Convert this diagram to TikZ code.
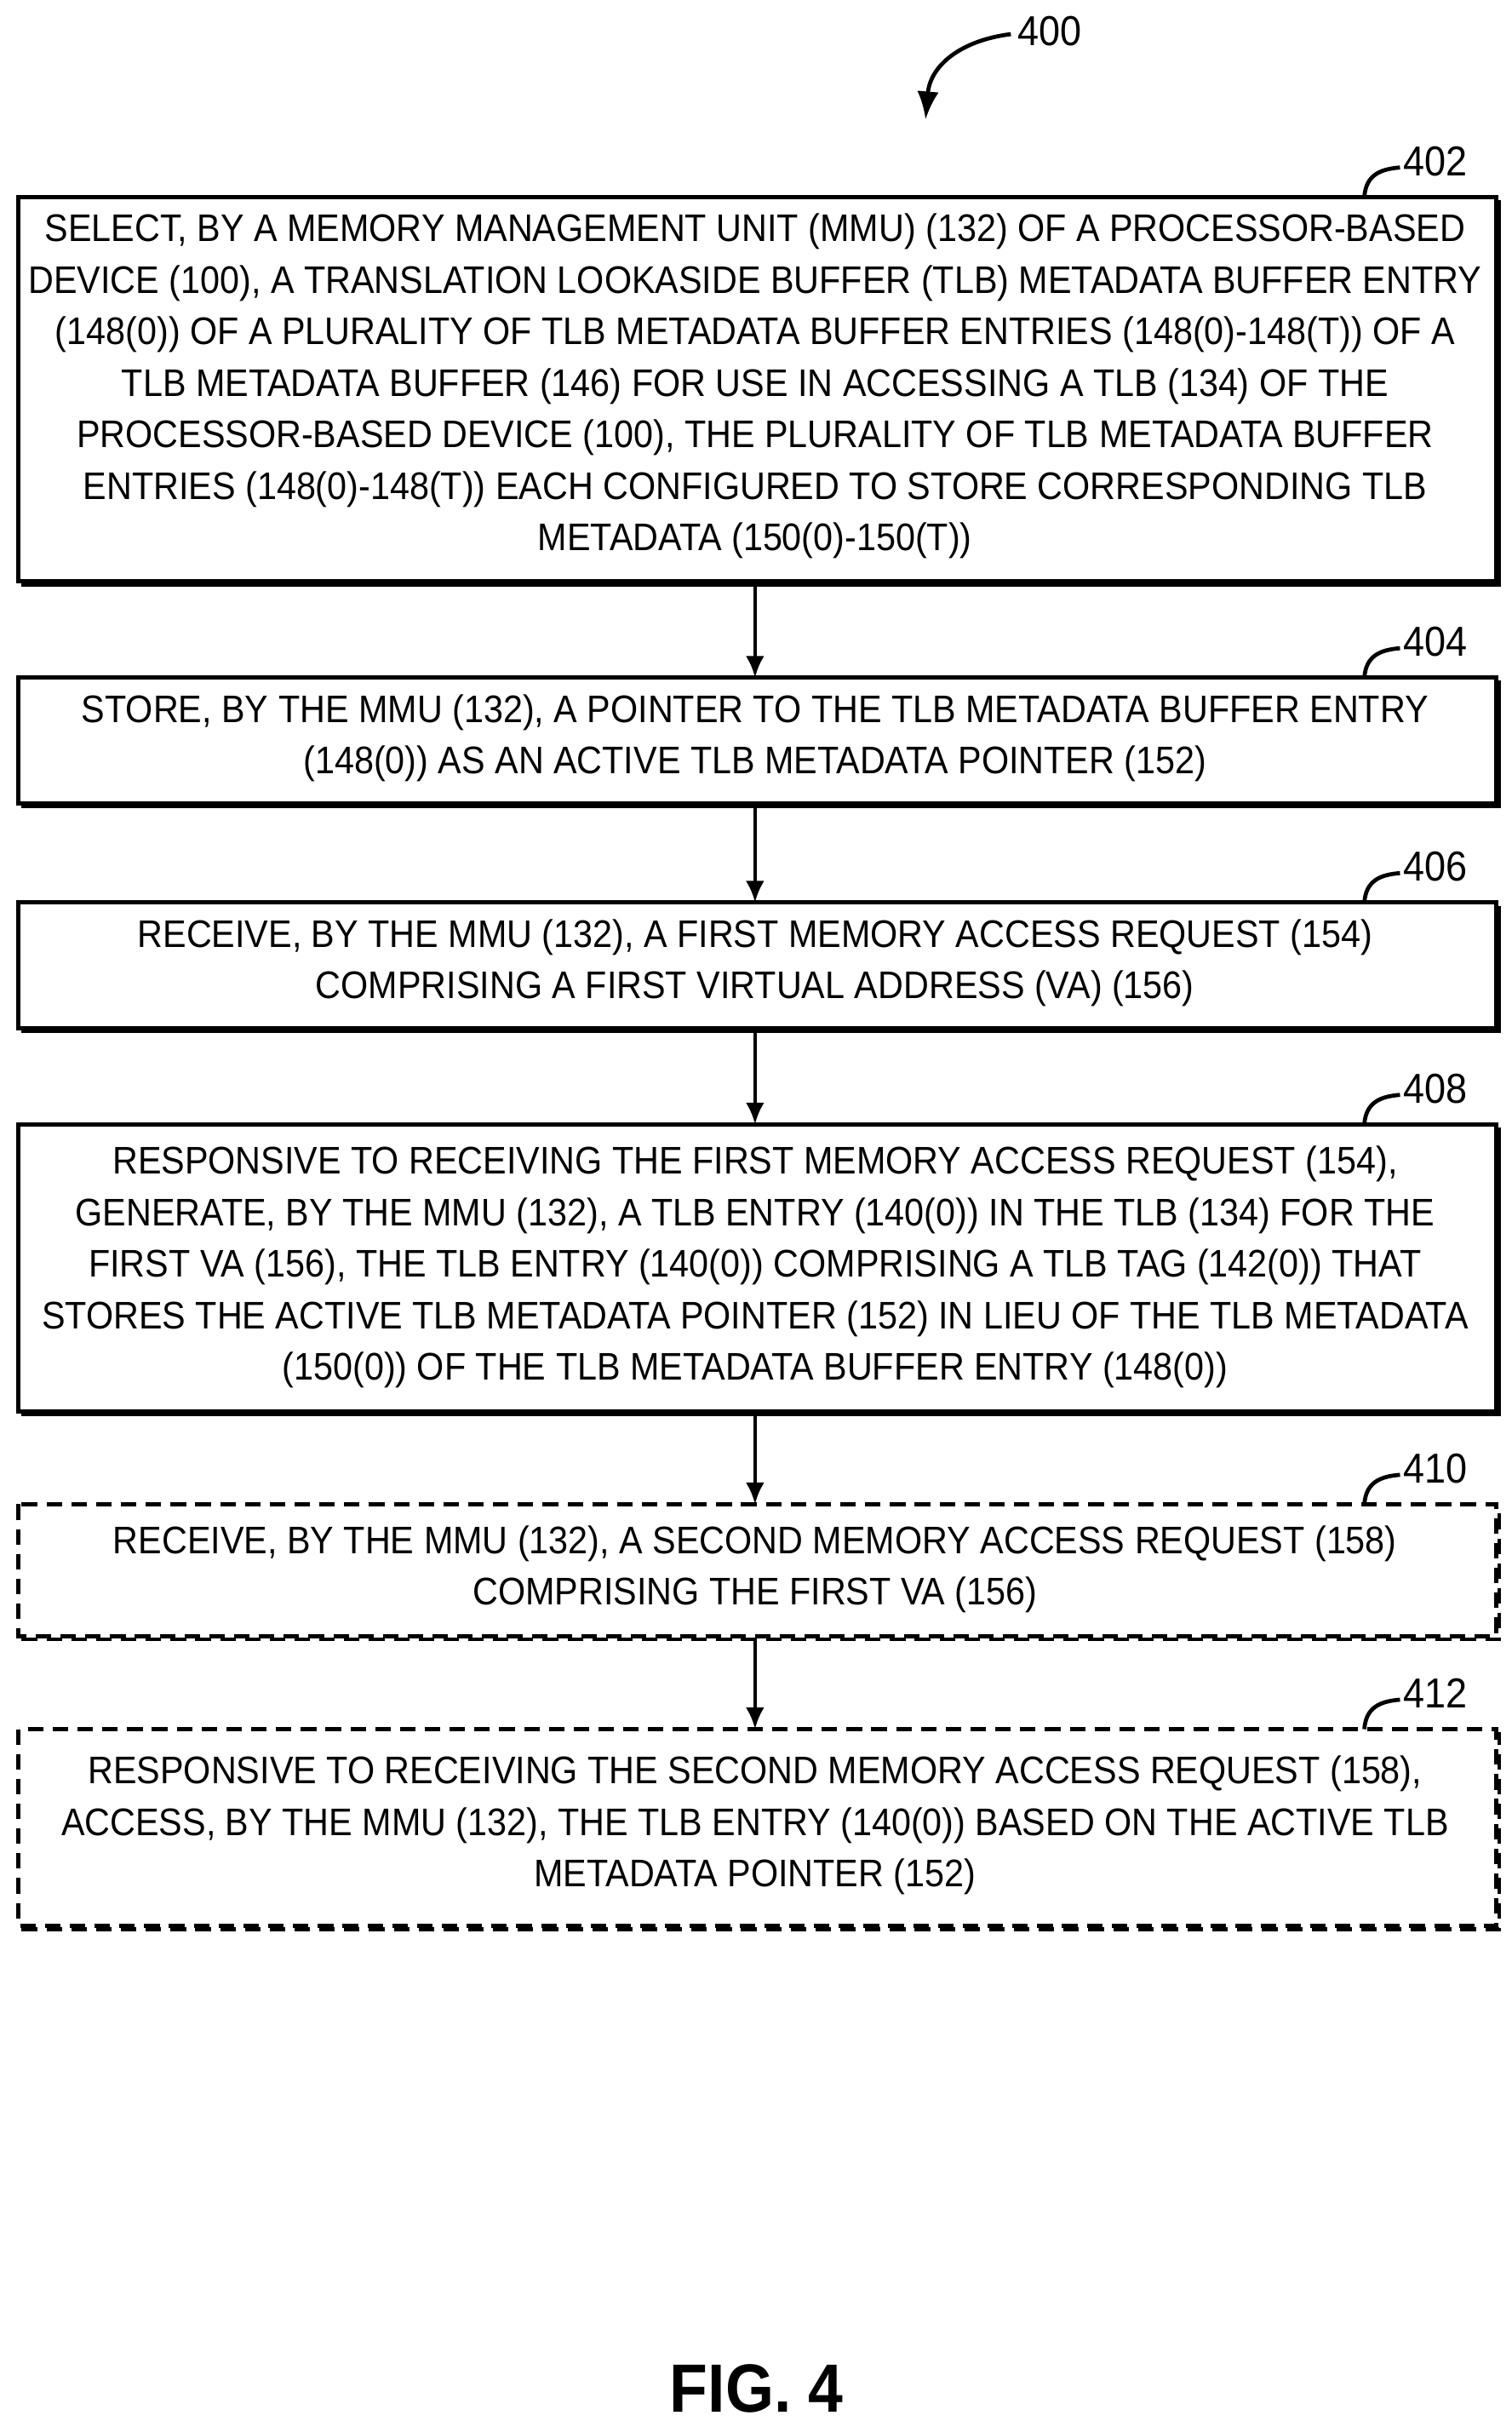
\documentclass[tikz,border=0pt]{standalone}
\usepackage{fontspec}
\setmainfont[FakeStretch=0.915]{Liberation Sans}
\begin{document}
\begin{tikzpicture}[x=0.5pt,y=-0.5pt,
 txt/.style={align=center,font=\fontsize{12.4}{16.6}\selectfont,inner sep=0pt},
 box/.style={draw,line width=1.4pt},
 dbox/.style={box,dash pattern=on 5pt off 3pt},
 arr/.style={-{Latex[length=7pt,width=6pt]},line width=1.2pt},
 hook/.style={line width=1.3pt},
 lab/.style={font=\fontsize{13.5}{14}\selectfont,inner sep=0pt,anchor=west}]
\usetikzlibrary{arrows.meta}
\useasboundingbox (0,0) rectangle (975,1565);
\newcommand{\mybox}[5]{%
  \draw[#1] (12,#3) rectangle (965,#4);
  \draw[#1,line width=1.2pt] (14,#4+2) -- (967,#4+2) -- (967,#3+2);
  \coordinate (#2t) at (487,#3); \coordinate (#2b) at (487,#4+3);
  \draw[hook] (880,#3) .. controls (881,#3-14) and (890,#3-18) .. (903,#3-19);
  \node[lab] at (905,#3-23) {#5};
}
\mybox{box}{a}{127}{375}{402}
\mybox{box}{b}{437}{518}{404}
\mybox{box}{c}{582}{663}{406}
\mybox{box}{d}{725}{910}{408}
\mybox{dbox}{e}{970}{1055}{410}
\mybox{dbox}{f}{1115}{1242}{412}
\node[txt] (ta) at (487,249) {SELECT, BY A MEMORY MANAGEMENT UNIT (MMU) (132) OF A PROCESSOR-BASED\\DEVICE (100), A TRANSLATION LOOKASIDE BUFFER (TLB) METADATA BUFFER ENTRY\\(148(0)) OF A PLURALITY OF TLB METADATA BUFFER ENTRIES (148(0)-148(T)) OF A\\TLB METADATA BUFFER (146) FOR USE IN ACCESSING A TLB (134) OF THE\\PROCESSOR-BASED DEVICE (100), THE PLURALITY OF TLB METADATA BUFFER\\ENTRIES (148(0)-148(T)) EACH CONFIGURED TO STORE CORRESPONDING TLB\\METADATA (150(0)-150(T))};
\node[txt] (tb) at (487,476) {STORE, BY THE MMU (132), A POINTER TO THE TLB METADATA BUFFER ENTRY\\(148(0)) AS AN ACTIVE TLB METADATA POINTER (152)};
\node[txt] (tc) at (487,621) {RECEIVE, BY THE MMU (132), A FIRST MEMORY ACCESS REQUEST (154)\\COMPRISING A FIRST VIRTUAL ADDRESS (VA) (156)};
\node[txt] (td) at (487,817) {RESPONSIVE TO RECEIVING THE FIRST MEMORY ACCESS REQUEST (154),\\GENERATE, BY THE MMU (132), A TLB ENTRY (140(0)) IN THE TLB (134) FOR THE\\FIRST VA (156), THE TLB ENTRY (140(0)) COMPRISING A TLB TAG (142(0)) THAT\\STORES THE ACTIVE TLB METADATA POINTER (152) IN LIEU OF THE TLB METADATA\\(150(0)) OF THE TLB METADATA BUFFER ENTRY (148(0))};
\node[txt] (te) at (487,1012) {RECEIVE, BY THE MMU (132), A SECOND MEMORY ACCESS REQUEST (158)\\COMPRISING THE FIRST VA (156)};
\node[txt] (tf) at (487,1177) {RESPONSIVE TO RECEIVING THE SECOND MEMORY ACCESS REQUEST (158),\\ACCESS, BY THE MMU (132), THE TLB ENTRY (140(0)) BASED ON THE ACTIVE TLB\\METADATA POINTER (152)};
\draw[arr] (ab) -- (bt);
\draw[arr] (bb) -- (ct);
\draw[arr] (cb) -- (dt);
\draw[arr] (db) -- (et);
\draw[arr] (eb) -- (ft);
\coordinate (s400) at (652,22);
\coordinate (e400) at (597,77);
\draw[hook,-{Latex[length=9pt,width=7pt]}] (s400) .. controls (620,26) and (600,42) .. (e400);
\node[lab] (n400) at (656,20) {400};
\node[font=\bfseries\fontsize{22}{24}\selectfont] (fig) at (488,1540) {FIG. 4};
\end{tikzpicture}
\end{document}
